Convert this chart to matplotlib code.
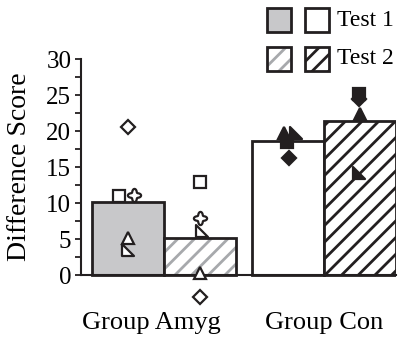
import numpy as np
import matplotlib.pyplot as plt
from matplotlib.patches import Rectangle
from matplotlib.path import Path

plt.rcParams['font.family'] = ['Liberation Serif', 'DejaVu Serif']
plt.rcParams['hatch.linewidth'] = 2.0

# Group means
groups = ['Group Amyg', 'Group Con']
test1_means = [10.2, 18.6]
test2_means = [5.1, 21.4]

# Individual subject scores: (marker kind, x jitter, score)
amyg_test1 = [('D', 0.0, 20.5), ('s', -0.125, 11.0), ('fl', 0.08, 11.1),
              ('^', 0.0, 5.1), ('rt', 0.0, 3.5)]
amyg_test2 = [('s', 0.0, 12.9), ('fl', 0.0, 7.9), ('rt', 0.02, 6.1),
              ('^', 0.0, 0.3), ('D', 0.0, -3.1)]
con_test1 = [('^', -0.055, 19.7), ('rt', 0.11, 19.7), ('s', -0.01, 18.5),
             ('D', 0.01, 16.3)]
con_test2 = [('D', -0.01, 24.5), ('s', -0.01, 25.2), ('^', 0.0, 22.3),
             ('rt', -0.02, 14.2)]

dark = '#231f20'
fill_gray = '#c8c8ca'
hatch_gray = '#a7a9ac'

# right-angled triangle and a rounded four-petal "flower" marker
right_tri = Path([(-1, 1), (-1, -1), (1, -1), (-1, 1)], closed=True)
theta = np.linspace(0, 2 * np.pi, 80)
r = 0.78 + 0.22 * np.cos(4 * theta)
flower = Path(np.column_stack([r * np.cos(theta), r * np.sin(theta)]), closed=True)

marker_map = {'D': 'D', 's': 's', 'fl': flower, '^': '^', 'rt': right_tri}
marker_size = {'D': 7.5, 's': 8, 'fl': 9.5, '^': 8, 'rt': 8}

fig = plt.figure(figsize=(4.02, 3.42), dpi=100)
ax = fig.add_axes([81 / 402, 31 / 342, 315 / 402, 252 / 342])

x_amyg = [0.0, 1.0]
x_con = [2.22, 3.22]

# Group Amyg bars
ax.bar(x_amyg[0], test1_means[0], width=1.0, color=fill_gray, edgecolor=dark,
       linewidth=2, zorder=2)
ax.bar(x_amyg[1], test2_means[0], width=1.0, color='white', edgecolor=hatch_gray,
       hatch='//', linewidth=0, zorder=2)
ax.bar(x_amyg[1], test2_means[0], width=1.0, fill=False, edgecolor=dark,
       linewidth=2, zorder=2)

# Group Con bars
ax.bar(x_con[0], test1_means[1], width=1.0, color='white', edgecolor=dark,
       linewidth=2, zorder=2)
ax.bar(x_con[1], test2_means[1], width=1.0, color='white', edgecolor=dark,
       hatch='//', linewidth=2, zorder=2)


def draw_points(xc, pts, face):
    for kind, dx, val in pts:
        ax.plot(xc + dx, val, linestyle='none', marker=marker_map[kind],
                markersize=marker_size[kind], markerfacecolor=face,
                markeredgecolor=dark, markeredgewidth=1.6, zorder=4,
                clip_on=False)


draw_points(x_amyg[0], amyg_test1, 'white')
draw_points(x_amyg[1], amyg_test2, 'white')
draw_points(x_con[0], con_test1, dark)
draw_points(x_con[1], con_test2, dark)

ax.set_xlim(-0.653, 3.72)
ax.set_ylim(-5, 30)

for s in ['top', 'right']:
    ax.spines[s].set_visible(False)
ax.spines['left'].set_bounds(0, 30)
ax.spines['bottom'].set_position(('data', 0))
for s in ['left', 'bottom']:
    ax.spines[s].set_linewidth(1.5)
    ax.spines[s].set_color(dark)
    ax.spines[s].set_zorder(3)

ax.set_yticks(range(0, 31, 5))
ax.set_yticks([2.5 + 5 * i for i in range(6)], minor=True)
ax.tick_params(axis='y', which='both', direction='out', length=4, width=1.3,
               color=dark, labelsize=18, pad=3)
ax.set_xticks([])

ax.set_ylabel('Difference Score', fontsize=20)
ax.yaxis.set_label_coords(-0.155, 20 / 35)

# Group names beneath the axis
label_x = [0.32, 2.72]
for gx, name in zip(label_x, groups):
    ax.text(gx, -6.6, name, ha='center', va='center', fontsize=19,
            clip_on=False)


# Legend key boxes
def key_box(px, py, face, edge, hatch=None):
    w, h = 24, 24
    xy = (px / 402, 1 - (py + h) / 342)
    if hatch:
        fig.add_artist(Rectangle(xy, w / 402, h / 342, transform=fig.transFigure,
                                 facecolor='white', edgecolor=face, hatch=hatch,
                                 linewidth=0))
        fig.add_artist(Rectangle(xy, w / 402, h / 342, transform=fig.transFigure,
                                 fill=False, edgecolor=edge, linewidth=2))
    else:
        fig.add_artist(Rectangle(xy, w / 402, h / 342, transform=fig.transFigure,
                                 facecolor=face, edgecolor=edge, linewidth=2))


key_box(267, 8, fill_gray, dark)
key_box(305, 8, 'white', dark)
key_box(267, 47, hatch_gray, dark, hatch='//')
key_box(305, 47, dark, dark, hatch='//')
fig.text(337 / 402, 1 - 20 / 342, 'Test 1', ha='left', va='center', fontsize=17)
fig.text(337 / 402, 1 - 59 / 342, 'Test 2', ha='left', va='center', fontsize=17)

fig.savefig('out.png', dpi=100)
